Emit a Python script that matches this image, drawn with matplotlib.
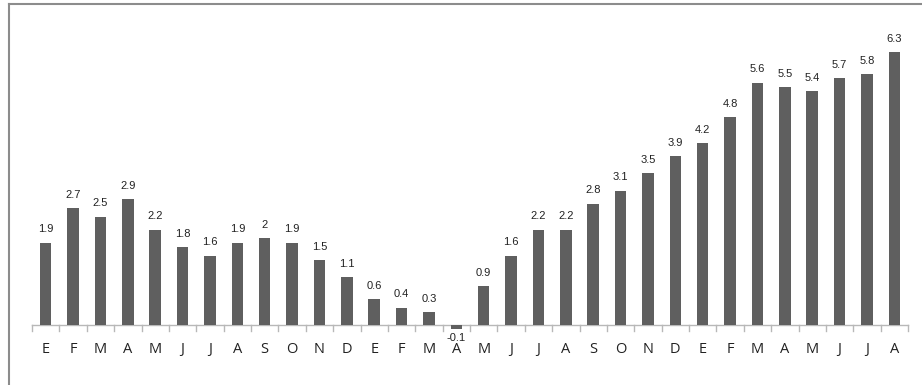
import matplotlib
matplotlib.use("Agg")
import matplotlib.pyplot as plt
from matplotlib.lines import Line2D

months = ["E", "F", "M", "A", "M", "J", "J", "A", "S", "O", "N", "D",
          "E", "F", "M", "A", "M", "J", "J", "A", "S", "O", "N", "D",
          "E", "F", "M", "A", "M", "J", "J", "A"]
values = [1.9, 2.7, 2.5, 2.9, 2.2, 1.8, 1.6, 1.9, 2, 1.9, 1.5, 1.1,
          0.6, 0.4, 0.3, -0.1, 0.9, 1.6, 2.2, 2.2, 2.8, 3.1, 3.5, 3.9,
          4.2, 4.8, 5.6, 5.5, 5.4, 5.7, 5.8, 6.3]
value_labels = ["1.9", "2.7", "2.5", "2.9", "2.2", "1.8", "1.6", "1.9", "2", "1.9", "1.5", "1.1",
                "0.6", "0.4", "0.3", "-0.1", "0.9", "1.6", "2.2", "2.2", "2.8", "3.1", "3.5", "3.9",
                "4.2", "4.8", "5.6", "5.5", "5.4", "5.7", "5.8", "6.3"]

W, H = 922, 385
fig = plt.figure(figsize=(W / 100, H / 100), dpi=100)
fig.patch.set_facecolor("white")

# axes placement in pixels
left_px, right_px = 32, 908
y_lo, y_hi = -1.0, 7.0
px_per_unit = 43.3
zero_px_from_top = 325
bottom_px_from_top = zero_px_from_top + (0 - y_lo) * px_per_unit
height_px = (y_hi - y_lo) * px_per_unit
ax = fig.add_axes([left_px / W, (H - bottom_px_from_top) / H,
                   (right_px - left_px) / W, height_px / H])
ax.set_xlim(-0.5, len(values) - 0.5)
ax.set_ylim(y_lo, y_hi)

x = list(range(len(values)))
ax.bar(x, values, width=0.42, color="#5f5f5f", zorder=2)

for side in ("top", "right", "left"):
    ax.spines[side].set_visible(False)
# baseline at zero, carrying the month labels
ax.spines["bottom"].set_position(("data", 0))
ax.spines["bottom"].set_color("#b8b8b8")
ax.spines["bottom"].set_linewidth(1.0)
ax.spines["bottom"].set_zorder(1)

# category boundary ticks below the baseline
for b in [i - 0.5 for i in range(len(values) + 1)]:
    ax.plot([b, b], [0, -5.5 / px_per_unit], color="#b8b8b8", lw=1.0,
            clip_on=False, zorder=1)

ax.set_yticks([])
ax.set_xticks(x)
ax.set_xticklabels(months, fontfamily="Open Sans", fontsize=10.5, color="#222222")
ax.tick_params(axis="x", length=0, pad=12.5)

# value labels
for xi, v, s in zip(x, values, value_labels):
    if v >= 0:
        ax.annotate(s, (xi, v), xytext=(0, 6), textcoords="offset points",
                    ha="center", va="bottom", fontsize=8,
                    fontfamily="Liberation Sans", color="#222222")
    else:
        ax.annotate(s, (xi, v), xytext=(0, -3), textcoords="offset points",
                    ha="center", va="top", fontsize=8,
                    fontfamily="Liberation Sans", color="#222222")

# outer frame (left and top edges)
fig.add_artist(Line2D([8.5 / W, 8.5 / W], [0, 1 - 3.5 / H],
                      transform=fig.transFigure, color="#8c8c8c", lw=1.5))
fig.add_artist(Line2D([8.5 / W, 1], [1 - 3.5 / H, 1 - 3.5 / H],
                      transform=fig.transFigure, color="#8c8c8c", lw=1.5))

fig.savefig("out.png", dpi=100, facecolor="white")
